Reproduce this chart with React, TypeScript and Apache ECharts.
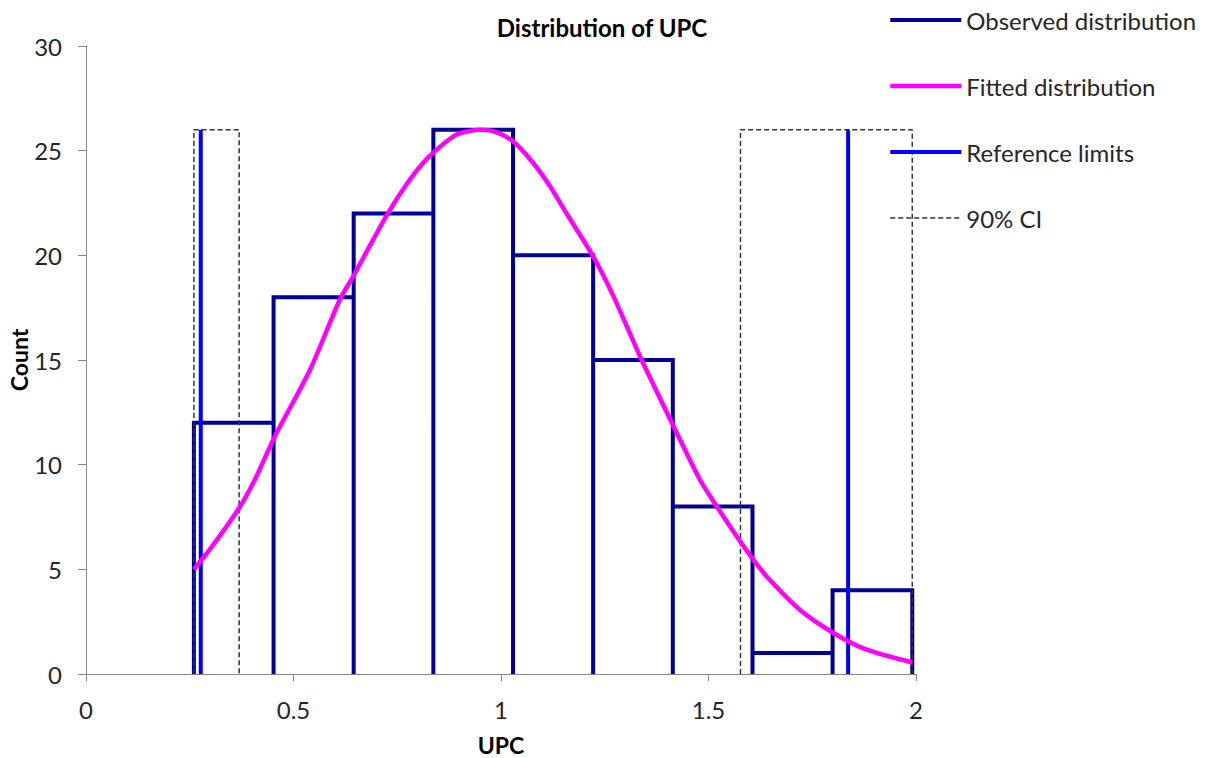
import React, { useEffect, useRef } from "react";
import * as echarts from "echarts";

const binEdges = [0.26, 0.452, 0.645, 0.837, 1.029, 1.222, 1.414, 1.606, 1.799, 1.991];
const binCounts = [12, 18, 22, 26, 20, 15, 8, 1, 4];

const fittedX = [0.26, 0.298, 0.369, 0.407, 0.455, 0.539, 0.612, 0.644, 0.692, 0.728, 0.772, 0.812, 0.845, 0.893, 0.949, 0.981, 1.029, 1.078, 1.118, 1.158, 1.222, 1.271, 1.335, 1.408, 1.479, 1.52, 1.576, 1.608, 1.64, 1.72, 1.801, 1.881, 1.991];
const fittedY = [5.0, 5.94, 7.93, 9.29, 11.35, 14.5, 17.9, 19.0, 20.75, 22.03, 23.38, 24.41, 25.05, 25.77, 26.0, 25.93, 25.45, 24.4, 23.3, 22.0, 19.95, 18.04, 15.17, 12.15, 9.29, 8.0, 6.34, 5.46, 4.66, 3.07, 1.96, 1.16, 0.55];

const refLimits = [0.2765, 1.8364];
const refHeight = 26;

const ciLower = [0.26, 0.369];
const ciUpper = [1.577, 1.991];
const ciHeight = 26;

const xTicks = [0, 0.5, 1, 1.5, 2];
const yTicks = [0, 5, 10, 15, 20, 25, 30];

const FONT = "Lato";

export default function App() {
  const ref = useRef<HTMLDivElement>(null);

  useEffect(() => {
    if (!ref.current) return;
    const chart = echarts.init(ref.current, null, { renderer: "svg" });

    const observed: any[] = [[binEdges[0], 0]];
    binCounts.forEach((c, i) => {
      observed.push([binEdges[i], c]);
      observed.push([binEdges[i + 1], c]);
      observed.push([binEdges[i + 1], 0]);
    });

    const fitted = fittedX.map((x, i) => [x, fittedY[i]]);

    const refData: any[] = [];
    refLimits.forEach((x, i) => {
      if (i > 0) refData.push(["-", "-"]);
      refData.push([x, 0], [x, refHeight]);
    });

    const ciData: any[] = [];
    [ciLower, ciUpper].forEach((b, i) => {
      if (i > 0) ciData.push(["-", "-"]);
      ciData.push([b[0], 0], [b[0], ciHeight], [b[1], ciHeight], [b[1], 0]);
    });

    const axisColor = "#868686";
    const labelColor = "#262626";

    chart.setOption({
      animation: false,
      backgroundColor: "#ffffff",
      title: {
        text: "Distribution of UPC",
        left: 597,
        top: 10,
        textAlign: "center",
        textStyle: { fontFamily: FONT, fontWeight: "bold", fontSize: 24, color: "#000" },
      },
      legend: {
        orient: "vertical",
        left: 883,
        top: 3,
        itemWidth: 71,
        itemHeight: 20,
        itemGap: 42,
        itemStyle: { opacity: 0 },
        data: [
          { name: "Observed distribution", lineStyle: { width: 4 } },
          { name: "Fitted distribution", lineStyle: { width: 4.5 } },
          { name: "Reference limits", lineStyle: { width: 4 } },
          { name: "90% CI", lineStyle: { width: 1.5 } },
        ],
        textStyle: { fontFamily: FONT, fontSize: 24, color: labelColor },
      },
      grid: { left: 86, right: 293, top: 46, bottom: 84, containLabel: false, outerBoundsMode: "none" },
      xAxis: {
        type: "value",
        min: 0,
        max: 2,
        interval: 0.5,
        name: "UPC",
        nameLocation: "middle",
        nameGap: 59,
        nameMoveOverlap: false,
        nameTextStyle: { fontFamily: FONT, fontWeight: "bold", fontSize: 23, color: "#000" },
        axisLine: { lineStyle: { color: axisColor, width: 1 } },
        axisTick: { show: true, length: 7, lineStyle: { color: axisColor } },
        axisLabel: {
          margin: 23,
          fontFamily: FONT,
          fontSize: 24,
          color: labelColor,
          formatter: (v: number) => (xTicks.includes(v) ? String(v) : ""),
        },
        splitLine: { show: false },
      },
      yAxis: {
        type: "value",
        min: 0,
        max: 30,
        interval: 5,
        name: "Count",
        nameLocation: "middle",
        nameGap: 56,
        nameMoveOverlap: false,
        nameTextStyle: { fontFamily: FONT, fontWeight: "bold", fontSize: 23, color: "#000" },
        axisLine: { show: true, lineStyle: { color: axisColor, width: 1 } },
        axisTick: { show: true, length: 8, lineStyle: { color: axisColor } },
        axisLabel: {
          margin: 24,
          fontFamily: FONT,
          fontSize: 24,
          color: labelColor,
          formatter: (v: number) => (yTicks.includes(v) ? String(v) : ""),
        },
        splitLine: { show: false },
      },
      series: [
        {
          name: "Observed distribution",
          type: "line",
          data: observed,
          symbol: "none",
          z: 2,
          lineStyle: { color: "#000099", width: 4, join: "miter" },
          itemStyle: { color: "#000099" },
        },
        {
          name: "90% CI",
          type: "line",
          data: ciData,
          symbol: "none",
          connectNulls: false,
          z: 3,
          lineStyle: { color: "#333333", width: 1.5, type: [5, 3] },
          itemStyle: { color: "#333333" },
        },
        {
          name: "Reference limits",
          type: "line",
          data: refData,
          symbol: "none",
          connectNulls: false,
          z: 4,
          lineStyle: { color: "#0000FF", width: 4 },
          itemStyle: { color: "#0000FF" },
        },
        {
          name: "Fitted distribution",
          type: "line",
          data: fitted,
          symbol: "none",
          smooth: 0.25,
          z: 5,
          lineStyle: { color: "#FF00FF", width: 4.5 },
          itemStyle: { color: "#FF00FF" },
        },
      ],
    });

    return () => chart.dispose();
  }, []);

  return (
    <div
      ref={ref}
      style={{ position: "fixed", left: 0, top: 0, width: 1209, height: 758, background: "#fff" }}
    />
  );
}
